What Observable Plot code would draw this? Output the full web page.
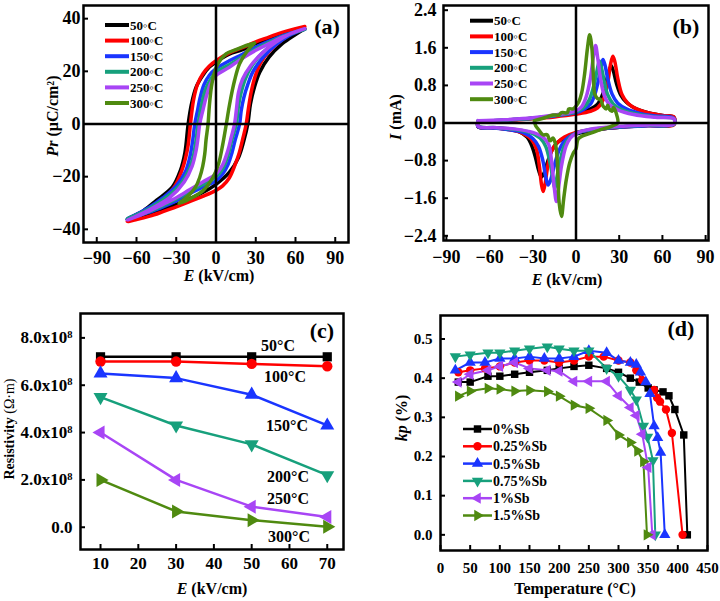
<!DOCTYPE html>
<html><head><meta charset="utf-8">
<script src="https://cdn.jsdelivr.net/npm/d3@7"></script>
<script src="https://cdn.jsdelivr.net/npm/@observablehq/plot@0.6"></script>
<style>
body{margin:0;background:#fff;}
#wrap{position:relative;width:720px;height:601px;overflow:hidden;background:#fff;}
.panel{position:absolute;}
.panel svg{display:block;overflow:visible;}
</style></head><body><div id="wrap"></div>
<script>
const FONT = '"Liberation Serif","Times New Roman",serif';
// ---------- shared series labels / colours ----------
const tempsLegend = ["50\u25E6C","100\u25E6C","150\u25E6C","200\u25E6C","250\u25E6C","300\u25E6C"];
const tempsC = ["50°C","100°C","150°C","200°C","250°C","300°C"];
const sbLabels = ["0%Sb","0.25%Sb","0.5%Sb","0.75%Sb","1%Sb","1.5%Sb"];
const seriesColors = ["#000000","#ff0000","#1a35ff","#17a07c","#a845f5","#4f8a10"];

// ---------- (a) P-E loops [E (kV/cm), P (uC/cm2)] ----------
const pe50 = [[67,36.2],[60,35.4],[50,34],[40,32.3],[30,30.5],[20,28.2],[10,26.5],[0,23.5],[-5,21.6],[-10,18.4],[-15,14],[-18.5,7.6],[-21,0],[-23.5,-11],[-27,-17.8],[-33,-24],[-45,-29],[-55,-33],[-67,-36.2],[-60,-35.4],[-50,-33.9],[-40,-32.2],[-30,-30.5],[-20,-28.4],[-10,-26],[0,-22.9],[10,-18.4],[17,-12.7],[21,-6.4],[24,0],[26,7.6],[29,14],[33,19.7],[40,25.4],[50,30.5],[60,34],[67,36.2]];
const pe100 = [[67,37],[60,36.2],[50,34.8],[40,33],[30,31.2],[20,29],[10,27],[0,24],[-5,22],[-10,19],[-14,15],[-17,9],[-19.3,0],[-21,-8],[-23,-13],[-26,-18],[-31,-23.5],[-40,-28.5],[-50,-32.5],[-60,-35.3],[-67,-37],[-60,-36.3],[-50,-35],[-40,-33.3],[-30,-31.5],[-20,-29.5],[-10,-27.5],[0,-25.2],[5,-23.5],[10,-20.5],[14,-16],[17.5,-11],[20.5,-5],[22.8,0],[24.5,6],[26.5,12],[29.5,18],[34,23.5],[40,27.5],[50,32],[60,35.3],[67,37]];
const pe150 = [[67,36],[60,35],[50,33.5],[40,31.5],[30,29.2],[20,26.5],[10,24],[0,21],[-5,18.5],[-9,15],[-12,10],[-14,5],[-16,0],[-17.5,-6],[-19.5,-12],[-23,-18],[-30,-23.5],[-40,-28],[-50,-31.5],[-60,-34.3],[-67,-36],[-60,-35],[-50,-33.5],[-40,-31.5],[-30,-29.2],[-20,-26.5],[-10,-24],[0,-21.6],[5,-19],[9,-15.5],[12,-11],[14.5,-6],[17.8,0],[19,5],[21,10],[24,15],[28,20],[35,25],[45,30],[55,33.5],[67,36]];
const pe200 = [[67,36],[60,35],[50,33.2],[40,31],[30,28.5],[20,25.5],[10,22.5],[0,19.7],[-4,17],[-8,13],[-11,7],[-13.5,0],[-15,-6],[-17,-12],[-20,-17],[-27,-23],[-38,-28],[-50,-32],[-60,-34.5],[-67,-36],[-60,-35],[-50,-33.2],[-40,-31],[-30,-28.5],[-20,-25.5],[-10,-23],[0,-20],[5,-17],[9,-12],[12,-6],[15.3,0],[17,7],[19,12],[22,17],[27,22],[35,27],[45,31],[55,34],[67,36]];
const pe250 = [[67,36.2],[60,35],[50,33],[40,30.5],[30,28],[20,25],[10,21.5],[0,18.4],[-4,15.5],[-7,11],[-10,5],[-12.3,0],[-13.5,-5],[-15,-10],[-18,-16],[-24,-22],[-35,-28],[-50,-32.5],[-60,-35],[-67,-36.5],[-60,-35.2],[-50,-33],[-40,-30.5],[-30,-28],[-20,-25],[-10,-22],[0,-19],[5,-15.5],[9,-10],[11.5,-5],[14,0],[15.5,6],[17,12],[20,17],[26,22],[35,27],[45,31],[55,34],[67,36.2]];
const pe300 = [[29,30.7],[22.8,29.8],[15,28.2],[7.8,26.7],[1.5,22.9],[-1.5,19],[-3.5,14],[-5,7],[-6,0],[-7.5,-6],[-8.5,-11.4],[-10,-16],[-12.3,-20.3],[-15.5,-24],[-19.8,-26.7],[-27.8,-30.2],[-20,-28.5],[-10,-25.4],[-2.3,-20.3],[2,-15],[5,-8],[7.8,0],[10.3,7.6],[14,16.5],[17.8,22.9],[24,28],[29,30.7]];

// ---------- (b) I-E curves [E (kV/cm), I (mA)] ----------
const ie50 = [[-68,0.04],[-50,0.06],[-40,0.08],[-30,0.1],[-20,0.13],[-10,0.17],[0,0.21],[5,0.25],[10,0.3],[15,0.4],[19,0.65],[22,1.0],[24.4,1.22],[26,1.1],[28,0.85],[31,0.6],[35,0.44],[40,0.33],[50,0.22],[60,0.16],[68,0.12],[68,-0.03],[60,-0.04],[50,-0.05],[40,-0.07],[30,-0.09],[20,-0.12],[10,-0.17],[0,-0.23],[-5,-0.28],[-10,-0.35],[-14,-0.45],[-17,-0.6],[-20,-0.85],[-22,-1.05],[-24,-1.15],[-26,-1.0],[-28,-0.75],[-30.5,-0.5],[-34,-0.3],[-40,-0.18],[-50,-0.12],[-60,-0.1],[-68,-0.08],[-68,0.04]];
const ie100 = [[-68,0.03],[-50,0.05],[-30,0.09],[-15,0.13],[0,0.19],[10,0.25],[15,0.32],[19,0.5],[22,0.85],[24,1.25],[25.6,1.42],[27,1.3],[29,0.95],[32,0.6],[36,0.42],[42,0.3],[50,0.22],[60,0.16],[68,0.13],[68,-0.04],[50,-0.06],[30,-0.09],[10,-0.15],[0,-0.2],[-8,-0.3],[-13,-0.42],[-17,-0.6],[-19.5,-0.9],[-21.5,-1.3],[-22.8,-1.46],[-24,-1.3],[-25.5,-0.9],[-27.5,-0.55],[-31,-0.35],[-37,-0.22],[-45,-0.15],[-55,-0.11],[-68,-0.08],[-68,0.03]];
const ie150 = [[-68,0.04],[-50,0.06],[-30,0.1],[-15,0.15],[0,0.22],[5,0.28],[10,0.4],[13,0.6],[15.5,0.9],[17.5,1.2],[18.7,1.35],[20,1.25],[22,0.95],[25,0.62],[29,0.42],[35,0.3],[45,0.2],[55,0.15],[68,0.1],[68,-0.03],[50,-0.06],[30,-0.09],[10,-0.15],[0,-0.22],[-5,-0.3],[-9,-0.42],[-12,-0.6],[-15,-0.9],[-17.5,-1.2],[-19.4,-1.32],[-21,-1.15],[-23,-0.8],[-26,-0.5],[-30,-0.33],[-37,-0.2],[-45,-0.15],[-55,-0.11],[-68,-0.08],[-68,0.04]];
const ie200 = [[-68,0.04],[-50,0.06],[-30,0.1],[-15,0.16],[0,0.24],[5,0.32],[9,0.48],[12,0.75],[14.5,1.1],[16.2,1.32],[17.5,1.2],[19.5,0.9],[22,0.6],[26,0.4],[32,0.28],[42,0.19],[55,0.13],[68,0.09],[68,-0.03],[50,-0.05],[30,-0.08],[10,-0.14],[0,-0.22],[-4,-0.3],[-8,-0.48],[-11,-0.8],[-13.5,-1.2],[-14.7,-1.39],[-16,-1.2],[-18,-0.85],[-21,-0.5],[-25,-0.32],[-32,-0.2],[-42,-0.14],[-55,-0.1],[-68,-0.07],[-68,0.04]];
const ie250 = [[-68,0.05],[-50,0.07],[-30,0.11],[-15,0.17],[0,0.26],[4,0.35],[7,0.55],[10,0.95],[12,1.4],[13.6,1.65],[15,1.4],[17,0.95],[19.5,0.6],[23,0.4],[29,0.28],[40,0.18],[55,0.12],[68,0.09],[68,-0.02],[50,-0.04],[30,-0.07],[10,-0.13],[0,-0.22],[-4,-0.32],[-7,-0.5],[-10,-0.9],[-12,-1.35],[-13.6,-1.67],[-15,-1.4],[-17,-0.8],[-19,-0.45],[-23,-0.3],[-30,-0.2],[-42,-0.13],[-55,-0.1],[-68,-0.07],[-68,0.05]];
const ie300 = [[-29,0.05],[-24,0.09],[-20,0.13],[-16,0.17],[-12,0.17],[-10,0.22],[-6,0.22],[-5,0.3],[-2,0.3],[0,0.36],[2,0.45],[4,0.65],[6,1.05],[8,1.6],[9.5,1.88],[11,1.6],[12,1.05],[13,0.62],[15,0.52],[17,0.5],[19,0.35],[21,0.3],[22,0.38],[23,0.3],[25,0.25],[26,0.33],[28,0.2],[29,0.0],[26,-0.05],[23,-0.09],[17,-0.14],[11.8,-0.2],[5,-0.27],[1.5,-0.34],[0,-0.55],[-2,-0.65],[-4.4,-0.85],[-6.7,-1.2],[-8.5,-1.6],[-10.1,-1.99],[-11.7,-1.7],[-12.5,-1.15],[-13.5,-0.6],[-14.7,-0.4],[-16,-0.32],[-18,-0.38],[-20,-0.25],[-23,-0.25],[-26,-0.14],[-28,-0.06],[-29,0.05]];

// ---------- (c) resistivity vs E ----------
const cE = [10,30,50,70];
const rho50 = [7.2e8,7.2e8,7.2e8,7.2e8];
const rho100 = [7.0e8,7.0e8,6.9e8,6.8e8];
const rho150 = [6.5e8,6.3e8,5.6e8,4.3e8];
const rho200 = [5.5e8,4.3e8,3.5e8,2.2e8];
const rho250 = [4.0e8,2.0e8,0.87e8,0.43e8];
const rho300 = [2.0e8,0.67e8,0.3e8,0.02e8];

// ---------- (d) kp vs temperature [T (°C), kp] ----------
const kp0 = [[30,0.39],[50,0.39],[80,0.405],[100,0.405],[125,0.41],[150,0.415],[180,0.42],[200,0.425],[225,0.43],[250,0.433],[280,0.425],[300,0.415],[320,0.40],[335,0.39],[350,0.375],[360,0.37],[375,0.365],[385,0.355],[395,0.32],[410,0.255],[416,0.0]];
const kp025 = [[30,0.415],[50,0.42],[75,0.425],[100,0.43],[125,0.44],[150,0.445],[175,0.445],[200,0.44],[225,0.445],[250,0.455],[275,0.455],[300,0.445],[320,0.44],[330,0.42],[340,0.395],[360,0.37],[365,0.35],[370,0.34],[380,0.32],[390,0.26],[408,0.0]];
const kp05 = [[25,0.42],[50,0.44],[75,0.44],[100,0.45],[125,0.45],[150,0.455],[175,0.45],[200,0.45],[225,0.455],[250,0.47],[280,0.465],[300,0.445],[320,0.44],[330,0.435],[337,0.415],[346,0.39],[353,0.36],[360,0.278],[366,0.248],[371,0.21],[378,0.0]];
const kp075 = [[25,0.455],[50,0.46],[80,0.465],[100,0.465],[125,0.47],[150,0.475],[180,0.48],[200,0.475],[225,0.47],[250,0.47],[280,0.425],[300,0.405],[320,0.37],[330,0.345],[342,0.278],[349,0.25],[358,0.19],[362,0.0]];
const kp1 = [[30,0.39],[50,0.41],[80,0.42],[100,0.43],[125,0.44],[150,0.425],[180,0.42],[200,0.418],[225,0.392],[250,0.392],[280,0.392],[300,0.355],[320,0.325],[330,0.305],[340,0.257],[350,0.172],[357,0.0]];
const kp15 = [[30,0.354],[50,0.367],[80,0.374],[100,0.372],[125,0.367],[150,0.369],[180,0.366],[200,0.354],[225,0.331],[250,0.323],[280,0.292],[300,0.255],[320,0.236],[332,0.214],[342,0.187],[348,0.0]];

// ---------- tick values ----------
const aXTicks = [-90,-60,-30,0,30,60,90];
const aYTicks = [-40,-20,0,20,40];
const bXTicks = [-90,-60,-30,0,30,60,90];
const bYTicks = [-2.4,-1.6,-0.8,0,0.8,1.6,2.4];
const cXTicks = [10,20,30,40,50,60,70];
const cYTicks = [0,2e8,4e8,6e8,8e8];
const dXTicks = [0,50,100,150,200,250,300,350,400,450];
const dYTicks = [0,0.1,0.2,0.3,0.4,0.5];

// ---------- marker symbols ----------
const SQ3 = Math.sqrt(3);
function triangle(rot) {
  return {draw(ctx, size) {
    const y = -Math.sqrt(size / (SQ3 * 3));
    const pts = [[0, y * 2], [-SQ3 * y, -y], [SQ3 * y, -y]].map(([x, yy]) =>
      rot === "down" ? [-x, -yy] : rot === "right" ? [-yy, x] : rot === "left" ? [yy, -x] : [x, yy]);
    ctx.moveTo(pts[0][0], pts[0][1]); ctx.lineTo(pts[1][0], pts[1][1]); ctx.lineTo(pts[2][0], pts[2][1]); ctx.closePath();
  }};
}
const symbols = [d3.symbolSquare, d3.symbolCircle, triangle("up"), triangle("down"), triangle("left"), triangle("right")];

// ---------- helpers ----------
function toRows(arrs, names, kx, ky) {
  return arrs.flatMap((arr, i) => arr.map(([a, b]) => ({[kx]: a, [ky]: b, s: names[i], i})));
}
function panel(o) {
  const innerH = o.h - o.mt - o.mb, innerW = o.w - o.ml - o.mr;
  return Plot.plot({
    width: o.w, height: o.h, marginLeft: o.ml, marginRight: o.mr, marginTop: o.mt, marginBottom: o.mb,
    style: {fontFamily: FONT, fontSize: o.fs + "px", fontWeight: "bold", color: "#000", background: "transparent"},
    x: {domain: o.xd, ticks: o.xt, tickFormat: o.xf, tickSize: 0, tickPadding: o.px, label: null},
    y: {domain: o.yd, ticks: o.yt, tickFormat: o.yf, tickSize: 0, tickPadding: o.py, label: null},
    marks: [
      ...o.marks,
      Plot.tickX(o.xt, {x: d => d, insetTop: innerH - 5, stroke: "#000", strokeWidth: 2}),
      Plot.tickY(o.yt, {y: d => d, insetRight: innerW - 5, stroke: "#000", strokeWidth: 2}),
      Plot.frame({stroke: "#000", strokeWidth: 2.5})
    ]
  });
}
function place(svg, left, top, w, h) {
  const div = document.createElement("div");
  div.className = "panel";
  div.style.left = left + "px"; div.style.top = top + "px";
  div.style.width = w + "px"; div.style.height = h + "px";
  div.appendChild(svg);
  document.getElementById("wrap").appendChild(div);
}
function addText(svg, o) {
  const t = d3.select(svg).append("text")
    .attr("font-size", o.size).attr("font-weight", "bold").attr("font-family", FONT)
    .attr("text-anchor", o.anchor || "middle").attr("fill", "#000");
  if (o.rotate) t.attr("transform", `translate(${o.x},${o.y}) rotate(-90)`).attr("dy", "0.35em");
  else t.attr("x", o.x).attr("y", o.y);
  o.parts.forEach(p => {
    const [s, italic, weight] = Array.isArray(p) ? p : [p];
    const sp = t.append("tspan").text(s);
    if (italic) sp.attr("font-style", "italic");
    if (weight) sp.attr("font-weight", weight);
  });
}
function addLegend(svg, labels, o) {
  const g = d3.select(svg).append("g");
  labels.forEach((lab, i) => {
    g.append("line").attr("x1", o.x0).attr("x2", o.x1).attr("y1", o.ys[i]).attr("y2", o.ys[i])
      .attr("stroke", seriesColors[i]).attr("stroke-width", o.sw);
    if (o.sym) g.append("path").attr("d", d3.symbol(symbols[i], Math.PI * o.r * o.r)())
      .attr("transform", `translate(${(o.x0 + o.x1) / 2},${o.ys[i]})`).attr("fill", seriesColors[i]);
    g.append("text").attr("x", o.tx).attr("y", o.ys[i]).attr("dy", "0.35em").attr("text-anchor", "start")
      .attr("font-size", o.fs).attr("font-weight", "bold").attr("font-family", FONT).attr("fill", "#000").text(lab);
  });
}
const fmtInt = d3.format("d");
const fmt1 = d3.format(".1f");

// ---------- panel (a) ----------
const rowsA = toRows([pe50, pe100, pe150, pe200, pe250, pe300], tempsC, "E", "P");
const svgA = panel({
  w: 360, h: 300, ml: 83, mr: 12, mt: 5, mb: 58, fs: 18,
  xd: [-100, 100], yd: [-45, 45], xt: aXTicks, yt: aYTicks, px: 9, py: 3,
  xf: fmtInt, yf: fmtInt,
  marks: [
    ...tempsC.map((t, i) => Plot.line(rowsA.filter(r => r.i === i), {x: "E", y: "P", stroke: seriesColors[i], strokeWidth: 3.5, curve: "catmull-rom"})),
    Plot.ruleX([0], {stroke: "#000", strokeWidth: 2.5}),
    Plot.ruleY([0], {stroke: "#000", strokeWidth: 2.5})
  ]
});
place(svgA, 0, 0, 360, 300);
addLegend(svgA, tempsLegend, {x0: 105, x1: 129, tx: 130, ys: [25, 40.6, 56.2, 71.8, 87.4, 103], sw: 4, fs: 13});
addText(svgA, {x: 327, y: 34, size: 22, parts: ["(a)"]});
addText(svgA, {x: 219, y: 281, size: 16, parts: [["E", true], " (kV/cm)"]});
addText(svgA, {x: 52, y: 116, size: 16, rotate: true, parts: [["Pr", true], " (μC/cm²)"]});

// ---------- panel (b) ----------
const rowsB = toRows([ie50, ie100, ie150, ie200, ie250, ie300], tempsC, "E", "I");
const svgB = panel({
  w: 360, h: 300, ml: 83, mr: 12, mt: 5, mb: 60, fs: 18,
  xd: [-92, 92], yd: [-2.5, 2.5], xt: bXTicks, yt: bYTicks, px: 10, py: 7,
  xf: fmtInt, yf: fmt1,
  marks: [
    ...tempsC.map((t, i) => Plot.line(rowsB.filter(r => r.i === i), {x: "E", y: "I", stroke: seriesColors[i], strokeWidth: 3.5, curve: "catmull-rom"})),
    Plot.ruleX([0], {stroke: "#000", strokeWidth: 2.5}),
    Plot.ruleY([0], {stroke: "#000", strokeWidth: 2.5})
  ]
});
place(svgB, 360, 0, 360, 300);
addLegend(svgB, tempsLegend, {x0: 110, x1: 133, tx: 134, ys: [20.7, 36.4, 52.1, 67.8, 83.5, 99.2], sw: 4, fs: 13});
addText(svgB, {x: 326, y: 34, size: 22, parts: ["(b)"]});
addText(svgB, {x: 207, y: 285, size: 16, parts: [["E", true], " (kV/cm)"]});
addText(svgB, {x: 35, y: 117, size: 16, rotate: true, parts: [["I", true], " (mA)"]});

// ---------- panel (c) ----------
const rhoSeries = [rho50, rho100, rho150, rho200, rho250, rho300];
const rowsC = rhoSeries.flatMap((vals, i) => vals.map((v, j) => ({E: cE[j], R: v, i})));
const svgC = panel({
  w: 360, h: 301, ml: 80, mr: 17, mt: 13, mb: 52, fs: 17,
  xd: [4.7, 74.3], yd: [-0.94e8, 9.03e8], xt: cXTicks, yt: cYTicks, px: 7.5, py: 8,
  xf: d => String(d), yf: d => d === 0 ? "0.0" : (d / 1e8).toFixed(1) + "x10",
  marks: [
    ...rhoSeries.map((v, i) => Plot.line(rowsC.filter(r => r.i === i), {x: "E", y: "R", stroke: seriesColors[i], strokeWidth: 2.5})),
    ...rhoSeries.map((v, i) => Plot.dot(rowsC.filter(r => r.i === i), {x: "E", y: "R", fill: seriesColors[i], r: 5.2, symbol: symbols[i]}))
  ]
});
place(svgC, 0, 300, 360, 301);
d3.select(svgC).selectAll('g[aria-label="y-axis tick label"] text').each(function () {
  const t = d3.select(this);
  if (t.text() !== "0.0") t.append("tspan").attr("dy", "-0.5em").attr("font-size", "0.62em").text("8");
});
addText(svgC, {x: 322, y: 38, size: 22, parts: ["(c)"]});
addText(svgC, {x: 212, y: 294, size: 16, parts: [["E", true], " (kV/cm)"]});
addText(svgC, {x: 9, y: 129, size: 14, rotate: true, parts: ["Resistivity ", ["(Ω·m)", false, "normal"]]});
[[278, 51], [285, 82], [287, 131], [288, 182], [288, 204], [289, 242]].forEach(([x, y], i) =>
  addText(svgC, {x, y, size: 16, parts: [tempsC[i]]}));

// ---------- panel (d) ----------
const kpSeries = [kp0, kp025, kp05, kp075, kp1, kp15];
const rowsD = toRows(kpSeries, sbLabels, "T", "k");
const svgD = panel({
  w: 360, h: 301, ml: 80, mr: 13, mt: 15, mb: 51, fs: 15,
  xd: [0, 450], yd: [-0.04, 0.56], xt: dXTicks, yt: dYTicks, px: 12, py: 8,
  xf: d => String(d), yf: fmt1,
  marks: [
    ...kpSeries.map((v, i) => Plot.line(rowsD.filter(r => r.i === i), {x: "T", y: "k", stroke: seriesColors[i], strokeWidth: 2})),
    ...kpSeries.map((v, i) => Plot.dot(rowsD.filter(r => r.i === i), {x: "T", y: "k", fill: seriesColors[i], r: 4.2, symbol: symbols[i]}))
  ]
});
place(svgD, 360, 300, 360, 301);
addLegend(svgD, sbLabels, {x0: 103, x1: 132, tx: 133, ys: [129, 146.3, 163.6, 180.9, 198.2, 215.5], sw: 2.5, fs: 14, sym: true, r: 4.2});
addText(svgD, {x: 321, y: 36, size: 22, parts: ["(d)"]});
addText(svgD, {x: 215, y: 294, size: 16, parts: ["Temperature (°C)"]});
addText(svgD, {x: 41, y: 118, size: 16, rotate: true, parts: [["kp", true], " (%)"]});
</script>
</body></html>
